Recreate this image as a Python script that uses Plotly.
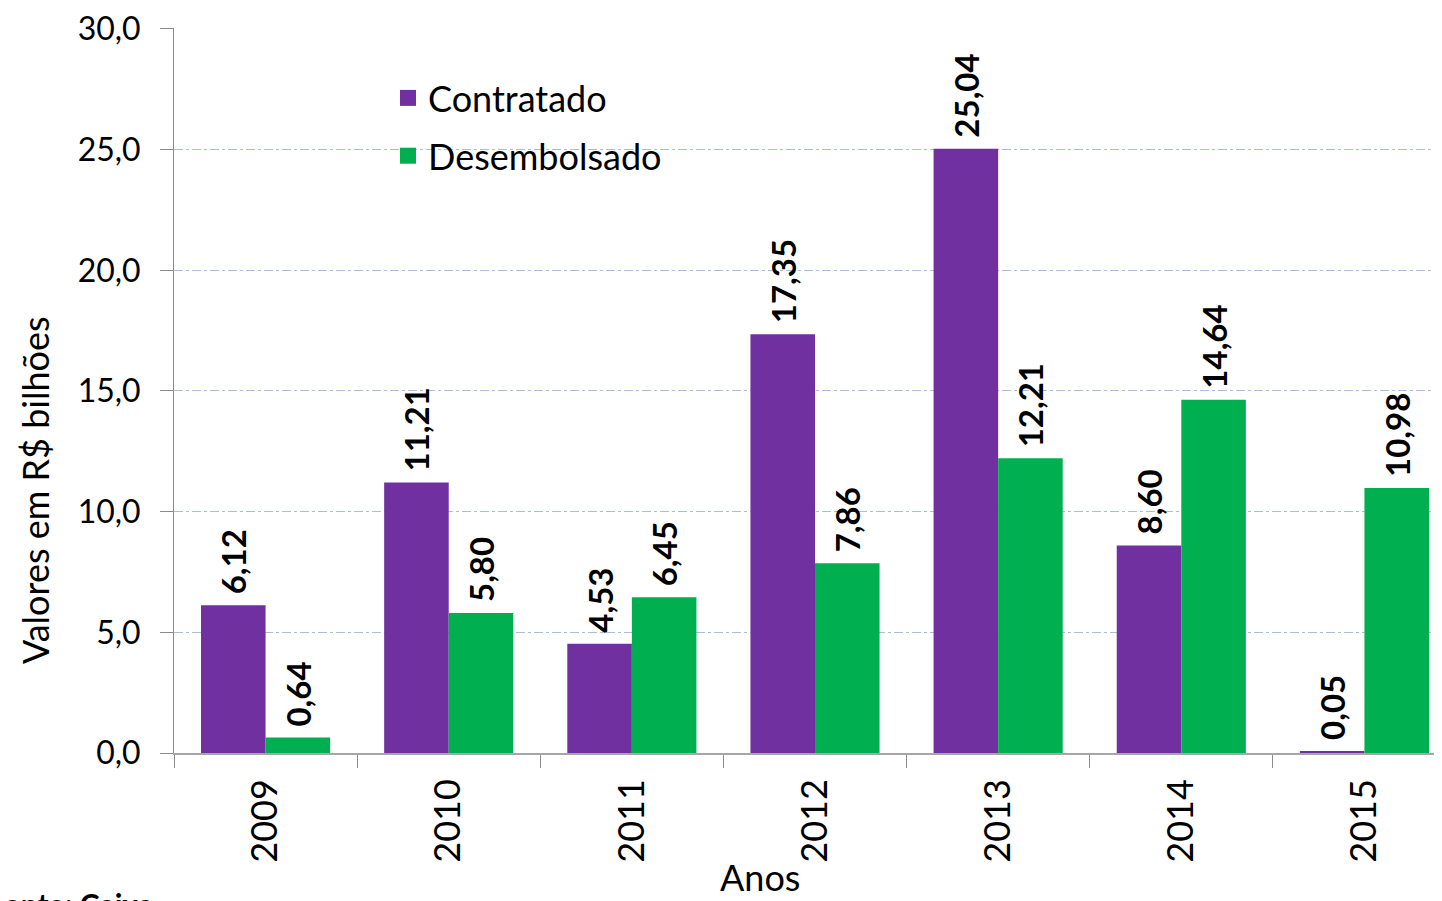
import plotly.graph_objects as go

anos = ["2009", "2010", "2011", "2012", "2013", "2014", "2015"]
contratado = [6.12, 11.21, 4.53, 17.35, 25.04, 8.60, 0.05]
desembolsado = [0.64, 5.80, 6.45, 7.86, 12.21, 14.64, 10.98]
y_ticks = [0, 5, 10, 15, 20, 25, 30]

FONT = "Lato"
ROXO = "#7030A0"
VERDE = "#00B050"
label_font = dict(family=FONT, size=33, color="black", weight="bold")


def px_x(p):
    return (p - 174) / 1268


def px_y(p):
    return (753 - p) / 725


fig = go.Figure()
for nome, vals, cor in [("Contratado", contratado, ROXO), ("Desembolsado", desembolsado, VERDE)]:
    fig.add_trace(go.Bar(
        x=anos, y=vals, name=nome, showlegend=False,
        marker=dict(color=cor, line=dict(width=0)),
        texttemplate="\u00a0%{y:.2f}", textposition="outside", textangle=-90,
        textfont=label_font, cliponaxis=False, constraintext="none",
    ))
for nome, cor in [("Contratado", ROXO), ("Desembolsado", VERDE)]:
    fig.add_trace(go.Scatter(
        x=[None], y=[None], mode="markers", name=nome, legendgroup=nome,
        marker=dict(symbol="square", size=22, color=cor),
    ))

fig.update_layout(
    width=1434, height=893,
    margin=dict(l=166, r=0, t=20, b=148),
    paper_bgcolor="white", plot_bgcolor="white",
    separators=",.",
    barmode="group", bargap=0.295, bargroupgap=0,
    font=dict(family=FONT, size=28, color="black"),
    showlegend=True,
    legend=dict(x=px_x(388), y=px_y(68), xanchor="left", yanchor="top",
                font=dict(size=36, family=FONT), itemsizing="trace",
                traceorder="grouped", tracegroupgap=8,
                bgcolor="rgba(0,0,0,0)"),
)

fig.update_xaxes(
    type="category", range=[-0.5, 6.4235],
    tickson="boundaries", ticks="outside", ticklen=13, tickcolor="#8C8C8C",
    showline=True, linecolor="#A6A6A6", linewidth=1.5,
    tickangle=-90, tickfont=dict(size=36, family=FONT),
    ticklabelstandoff=10,
    showgrid=False, zeroline=False,
)
fig.update_yaxes(
    range=[0, 30.04], tickvals=y_ticks, tickformat=".1f",
    ticks="outside", ticklen=13, tickcolor="#8C8C8C",
    showline=True, linecolor="#8C8C8C", linewidth=1,
    showgrid=True, gridcolor="#A9BFD9", griddash="dashdot", gridwidth=1,
    zeroline=False, tickfont=dict(size=32, family=FONT),
    ticklabelstandoff=13, ticklabeloverflow="allow",
)

fig.add_annotation(text="Valores em R$ bilhões", xref="paper", yref="paper",
                   x=px_x(35), y=px_y(490), textangle=-90,
                   showarrow=False, font=dict(size=36, family=FONT),
                   xanchor="center", yanchor="middle")
fig.add_annotation(text="Anos", xref="paper", yref="paper",
                   x=px_x(760), y=px_y(877),
                   showarrow=False, font=dict(size=36, family=FONT),
                   xanchor="center", yanchor="middle")
fig.add_annotation(text="<b>Fonte: Caixa</b>", xref="paper", yref="paper",
                   x=px_x(155), y=px_y(884),
                   showarrow=False, font=dict(size=30, family=FONT),
                   xanchor="right", yanchor="top")

fig.write_html("out.html")
